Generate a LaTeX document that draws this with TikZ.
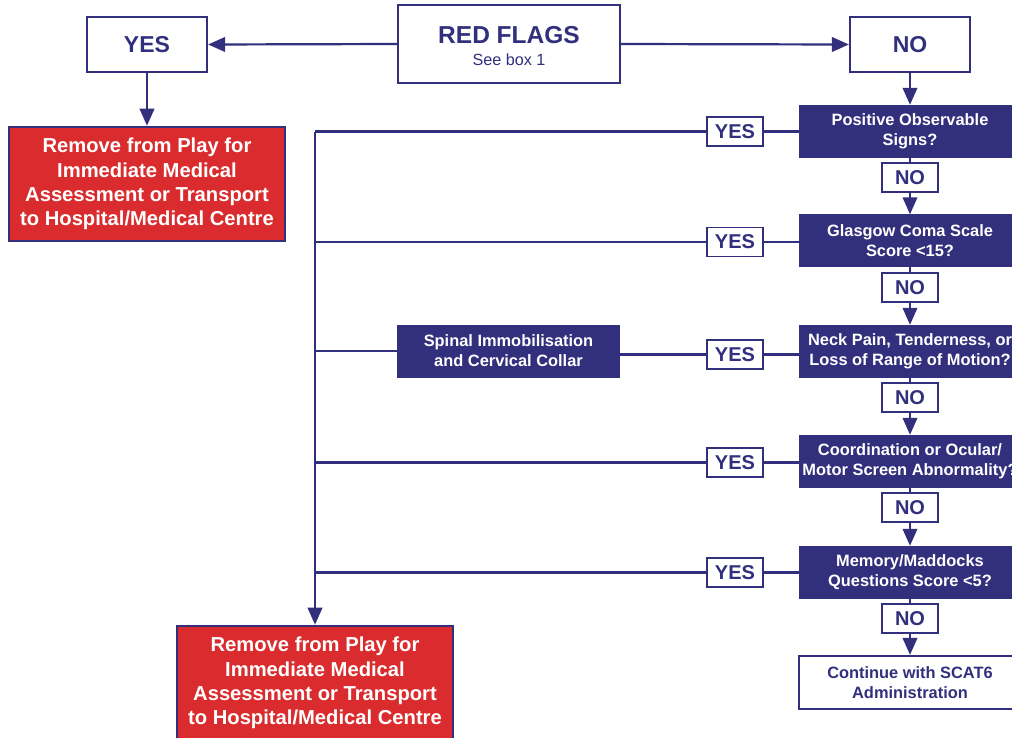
\documentclass[tikz,border=0pt]{standalone}
\usepackage{fontspec}
\setmainfont{Liberation Sans}
\usetikzlibrary{arrows.meta}
\definecolor{navy}{RGB}{50,47,125}
\definecolor{redfill}{RGB}{218,44,46}
\begin{document}
\begin{tikzpicture}[x=1pt,y=-1pt,
  line/.style={draw=navy,line width=2.2pt},
  arr/.style={line,-{Triangle[length=17pt,width=14.5pt]}},
  bigbox/.style={draw=navy,line width=2.2pt,fill=white,text=navy,font=\bfseries\fontsize{23}{26}\selectfont,minimum width=120pt,minimum height=55pt,inner sep=0pt},
  tag/.style={draw=navy,line width=1.4pt,fill=white,text=navy,font=\bfseries\fontsize{20}{22}\selectfont,minimum width=56pt,minimum height=29pt,inner sep=0pt},
  qbox/.style={draw=navy,fill=navy,text=white,font=\bfseries\fontsize{16.4}{20}\selectfont,align=center,minimum width=222pt,minimum height=52pt,inner sep=0pt},
  endbox/.style={draw=navy,line width=2.2pt,fill=white,text=navy,font=\bfseries\fontsize{16.4}{20}\selectfont,align=center,minimum width=222pt,minimum height=53pt,inner sep=0pt},
  redbox/.style={draw=navy,line width=2.6pt,fill=redfill,text=white,font=\bfseries\fontsize{20.2}{24.3}\selectfont,align=center,minimum width=276pt,minimum height=114pt,inner sep=0pt}]
\useasboundingbox (0,0) rectangle (1012,737);
\fill[white] (0,0) rectangle (1012,737);
% top row
\node[draw=navy,line width=2.2pt,fill=white,minimum width=222pt,minimum height=78pt,inner sep=0pt] (rf) at (509,44) {};
\node[text=navy,font=\bfseries\fontsize{24.5}{28}\selectfont,anchor=base] (rft) at (509,43.5) {RED FLAGS};
\node[text=navy,font=\fontsize{16.2}{18}\selectfont,anchor=base] (rfs) at (509,65.5) {See box 1};
\node[bigbox] (yes) at (147,44.5) {YES};
\node[bigbox] (no) at (910,44.5) {NO};
\draw[arr] (rf.west) -- (yes.east);
\draw[arr] (rf.east) -- (no.west);
% left red box
\node[redbox] (rem1) at (147,184) {Remove from Play for\\Immediate Medical\\Assessment or Transport\\to Hospital/Medical Centre};
\draw[arr] (yes.south) -- (rem1.north);
% question column
\node[qbox] (q1) at (910,131) {Positive Observable\\Signs?};
\node[qbox] (q2) at (910,240.5) {Glasgow Coma Scale\\Score <15?};
\node[qbox] (q3) at (910,351) {Neck Pain, Tenderness, or\\Loss of Range of Motion?};
\node[qbox] (q4) at (910,461) {Coordination or Ocular/\\Motor Screen Abnormality?};
\node[qbox] (q5) at (910,572) {Memory/Maddocks\\Questions Score <5?};
\node[endbox] (cont) at (910,682.5) {Continue with SCAT6\\Administration};
\draw[arr] (no.south) -- (q1.north);
\node[tag] (n1) at (910,177.5) {NO};
\node[tag] (n2) at (910,287.5) {NO};
\node[tag] (n3) at (910,397.5) {NO};
\node[tag] (n4) at (910,507.5) {NO};
\node[tag] (n5) at (910,618.5) {NO};
\draw[line] (q1.south) -- (n1.north); \draw[arr] (n1.south) -- (q2.north);
\draw[line] (q2.south) -- (n2.north); \draw[arr] (n2.south) -- (q3.north);
\draw[line] (q3.south) -- (n3.north); \draw[arr] (n3.south) -- (q4.north);
\draw[line] (q4.south) -- (n4.north); \draw[arr] (n4.south) -- (q5.north);
\draw[line] (q5.south) -- (n5.north); \draw[arr] (n5.south) -- (cont.north);
% yes tags
\node[tag] (y1) at (735,131.5) {YES};
\node[tag] (y2) at (735,242) {YES};
\node[tag] (y3) at (735,354.5) {YES};
\node[tag] (y4) at (735,462.5) {YES};
\node[tag] (y5) at (735,572.5) {YES};
\node[qbox] (spin) at (508.5,351) {Spinal Immobilisation\\and Cervical Collar};
\coordinate (c1) at (315,131.5);
\coordinate (c2) at (315,242);
\coordinate (c3) at (315,351);
\coordinate (c4) at (315,462.5);
\coordinate (c5) at (315,572.5);
\draw[line] (q1.west |- y1) -- (y1.east); \draw[line] (y1.west) -- (c1);
\draw[line] (q2.west |- y2) -- (y2.east); \draw[line] (y2.west) -- (c2);
\draw[line] (q3.west |- y3) -- (y3.east); \draw[line] (y3.west) -- (spin.east |- y3); \draw[line] (spin.west) -- (c3);
\draw[line] (q4.west |- y4) -- (y4.east); \draw[line] (y4.west) -- (c4);
\draw[line] (q5.west |- y5) -- (y5.east); \draw[line] (y5.west) -- (c5);
% bottom red box
\node[redbox] (rem2) at (315,683) {Remove from Play for\\Immediate Medical\\Assessment or Transport\\to Hospital/Medical Centre};
\draw[arr] (c1) -- (rem2.north);
\end{tikzpicture}
\end{document}
